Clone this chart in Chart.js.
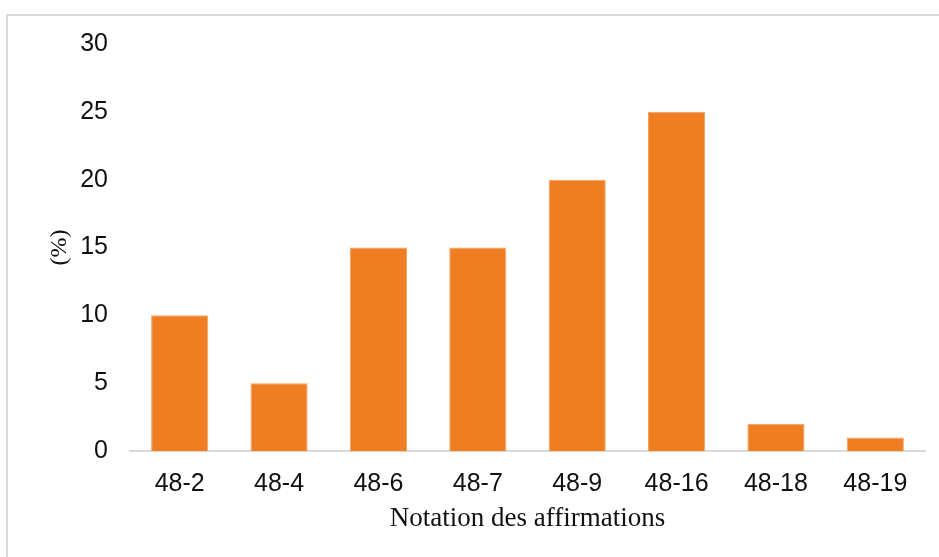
<!DOCTYPE html>
<html>
<head>
<meta charset="utf-8">
<script src="https://cdn.jsdelivr.net/npm/chart.js@4"></script>
<style>
    html, body { margin: 0; padding: 0; background: #fff; overflow: hidden; }
    #wrap { position: relative; width: 939px; height: 557px; }
    #frame {
        position: absolute; left: 6px; top: 14px; width: 960px; height: 580px;
        border-top: 2px solid #dadada; border-left: 2px solid #dadada;
        pointer-events: none;
    }
    canvas { position: absolute; left: 0; top: 0; }
</style>
</head>
<body>
<div id="wrap">
    <canvas id="chart" width="939" height="557"></canvas>
    <div id="frame"></div>
</div>
<script>
// Chart data
const categories = ['48-2', '48-4', '48-6', '48-7', '48-9', '48-16', '48-18', '48-19'];
const percentages = [10, 5, 15, 15, 20, 25, 2, 1];
const yTicks = [0, 5, 10, 15, 20, 25, 30];

(function() {
    'use strict';

    const ctx = document.getElementById('chart').getContext('2d');
    new Chart(ctx, {
        type: 'bar',
        data: {
            labels: categories,
            datasets: [{
                data: percentages,
                backgroundColor: '#ef7d22',
                borderColor: '#f4a25e',
                borderWidth: 1,
                categoryPercentage: 1,
                barPercentage: 0.575
            }]
        },
        options: {
            responsive: false,
            animation: false,
            layout: { padding: { top: 44, right: 14, bottom: 0, left: 0 } },
            plugins: { legend: { display: false }, tooltip: { enabled: false } },
            scales: {
                x: {
                    grid: { display: false, drawTicks: false },
                    border: { display: true, color: '#d9d9d9', width: 2 },
                    ticks: {
                        color: '#111',
                        padding: 18,
                        maxRotation: 0,
                        font: { family: 'Liberation Sans, Arial', size: 25 }
                    },
                    title: {
                        display: true,
                        text: 'Notation des affirmations',
                        color: '#111',
                        padding: { top: 0, bottom: 22 },
                        font: { family: 'Liberation Serif, Times New Roman', size: 27 }
                    },
                    afterFit: function(scale) { scale.height = 106; }
                },
                y: {
                    min: 0,
                    max: 30,
                    grid: { display: false, drawTicks: false },
                    border: { display: false },
                    afterBuildTicks: function(scale) {
                        scale.ticks = yTicks.map(v => ({ value: v }));
                    },
                    ticks: {
                        color: '#111',
                        padding: 22,
                        font: { family: 'Liberation Sans, Arial', size: 25 }
                    },
                    title: {
                        display: true,
                        text: '(%)',
                        color: '#111',
                        padding: { top: 45, bottom: 0 },
                        font: { family: 'Liberation Serif, Times New Roman', size: 24 }
                    },
                    afterFit: function(scale) { scale.width = 130; }
                }
            }
        }
    });
})();
</script>
</body>
</html>
